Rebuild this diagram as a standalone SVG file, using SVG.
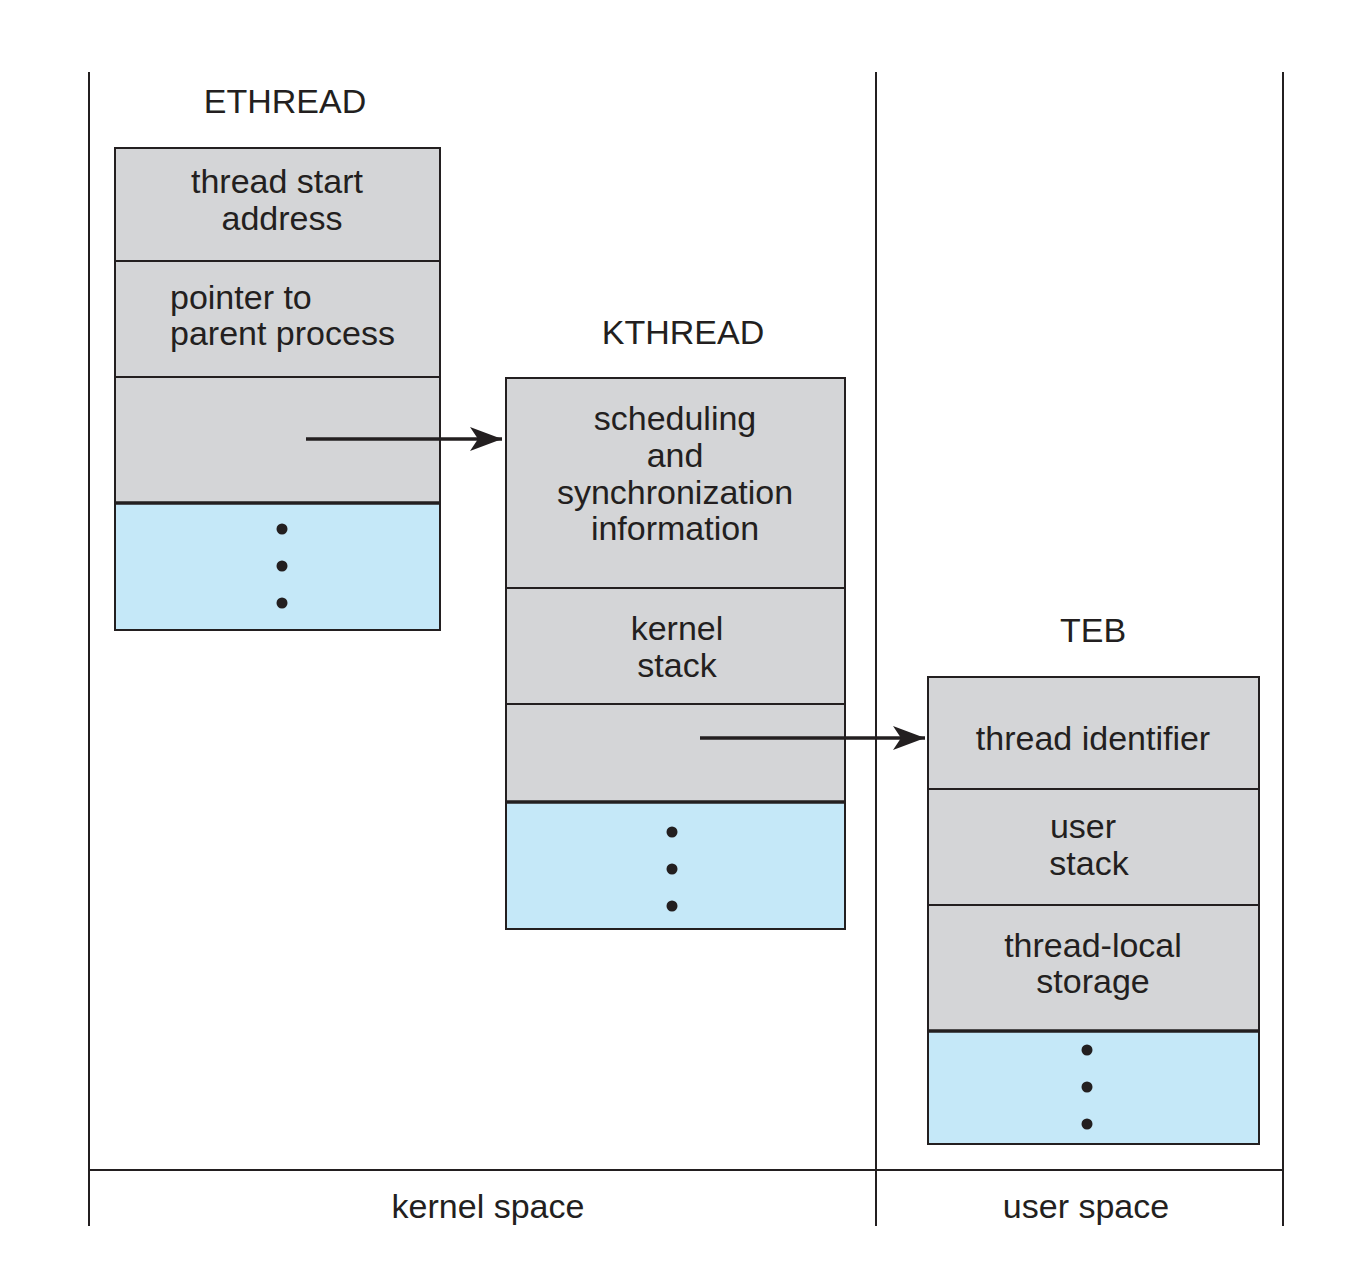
<svg xmlns="http://www.w3.org/2000/svg" width="1372" height="1264" viewBox="0 0 1372 1264">
<style>
.t{font-family:"Liberation Sans",Arial,sans-serif;font-size:34px;fill:#231f20;text-anchor:middle}
.g{fill:#d4d5d7;stroke:#231f20;stroke-width:2}
.b{fill:#c5e8f8;stroke:#231f20;stroke-width:2}
.l{stroke:#231f20;stroke-width:2;fill:none}
.sep{stroke:#231f20;stroke-width:3.5;fill:none}
.arr{stroke:#231f20;stroke-width:3.5;fill:none}
.d{fill:#231f20}
</style>
<defs>
<marker id="ah" markerWidth="34" markerHeight="24" refX="32" refY="12" orient="auto" markerUnits="userSpaceOnUse">
<path d="M0,0 L32,12 L0,24 L8,12 Z" fill="#231f20"/>
</marker>
</defs>
<rect width="1372" height="1264" fill="#fff"/>
<g id="frame">
<line class="l" x1="89" y1="72" x2="89" y2="1226"/>
<line class="l" x1="876" y1="72" x2="876" y2="1226"/>
<line class="l" x1="1283" y1="72" x2="1283" y2="1226"/>
<line class="l" x1="89" y1="1170" x2="1283" y2="1170"/>
<text class="t" x="488" y="1218">kernel space</text>
<text class="t" x="1086" y="1218">user space</text>
</g>
<g id="ethread">
<text class="t" x="285" y="113">ETHREAD</text>
<rect class="g" x="115" y="148" width="325" height="113"/>
<rect class="g" x="115" y="261" width="325" height="116"/>
<rect class="g" x="115" y="377" width="325" height="126"/>
<rect class="b" x="115" y="503" width="325" height="127"/>
<line class="sep" x1="115" y1="503" x2="440" y2="503"/>
<text class="t" x="277" y="193">thread start</text>
<text class="t" x="282" y="230">address</text>
<text class="t" x="170" y="309" style="text-anchor:start">pointer to</text>
<text class="t" x="170" y="345" style="text-anchor:start">parent process</text>
<circle class="d" cx="282" cy="529" r="5.5"/>
<circle class="d" cx="282" cy="566" r="5.5"/>
<circle class="d" cx="282" cy="603" r="5.5"/>
</g>
<g id="kthread">
<text class="t" x="683" y="344">KTHREAD</text>
<rect class="g" x="506" y="378" width="339" height="210"/>
<rect class="g" x="506" y="588" width="339" height="116"/>
<rect class="g" x="506" y="704" width="339" height="98"/>
<rect class="b" x="506" y="802" width="339" height="127"/>
<line class="sep" x1="506" y1="802" x2="845" y2="802"/>
<text class="t" x="675" y="430">scheduling</text>
<text class="t" x="675" y="467">and</text>
<text class="t" x="675" y="504">synchronization</text>
<text class="t" x="675" y="540">information</text>
<text class="t" x="677" y="640">kernel</text>
<text class="t" x="677" y="677">stack</text>
<circle class="d" cx="672" cy="832" r="5.5"/>
<circle class="d" cx="672" cy="869" r="5.5"/>
<circle class="d" cx="672" cy="906" r="5.5"/>
</g>
<g id="teb">
<text class="t" x="1093" y="642">TEB</text>
<rect class="g" x="928" y="677" width="331" height="112"/>
<rect class="g" x="928" y="789" width="331" height="116"/>
<rect class="g" x="928" y="905" width="331" height="126"/>
<rect class="b" x="928" y="1031" width="331" height="113"/>
<line class="sep" x1="928" y1="1031" x2="1259" y2="1031"/>
<text class="t" x="1093" y="750">thread identifier</text>
<text class="t" x="1083" y="838">user</text>
<text class="t" x="1089" y="875">stack</text>
<text class="t" x="1093" y="957">thread-local</text>
<text class="t" x="1093" y="993">storage</text>
<circle class="d" cx="1087" cy="1050" r="5.5"/>
<circle class="d" cx="1087" cy="1087" r="5.5"/>
<circle class="d" cx="1087" cy="1124" r="5.5"/>
</g>
<g id="connectors">
<line class="arr" x1="306" y1="439" x2="502" y2="439" marker-end="url(#ah)"/>
<line class="arr" x1="700" y1="738" x2="925" y2="738" marker-end="url(#ah)"/>
</g>
</svg>
